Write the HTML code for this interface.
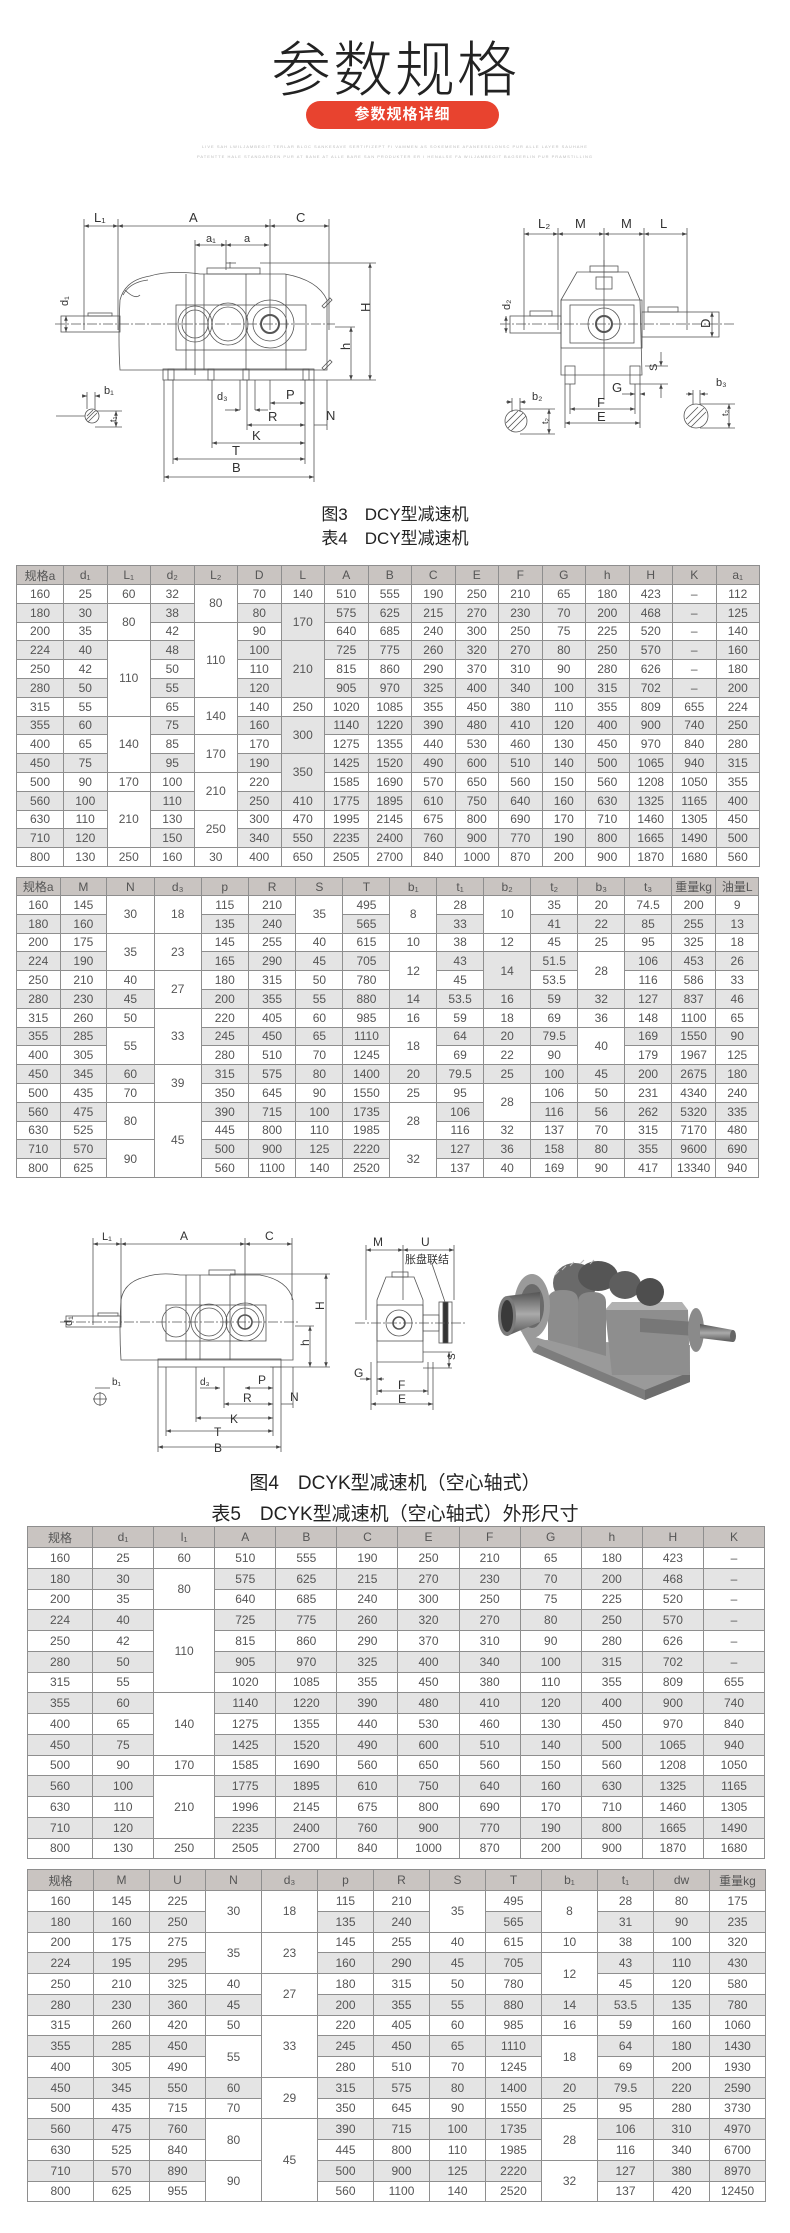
<!DOCTYPE html>
<html><head><meta charset="utf-8">
<style>
*{margin:0;padding:0;box-sizing:border-box}
body{width:790px;height:2233px;background:#fff;position:relative;font-family:"Liberation Sans","Noto Sans CJK SC",sans-serif;overflow:hidden}
.abs{position:absolute}
table{position:absolute;border-collapse:collapse;table-layout:fixed}
td{border:1px solid #8e8e8e;text-align:center;vertical-align:middle;font-size:12px;color:#555;padding:0;white-space:nowrap;font-family:"Liberation Sans","Noto Sans CJK SC",sans-serif}
tr.h td{background:#c9c4c1;color:#555}
tr.g td{background:#e4e4e4}
td.w{background:#fff!important}
td.gg{background:#e4e4e4!important}
.t1 tr{height:18.8px}
.t3 tr{height:20.75px}
.cap{position:absolute;left:0;width:790px;text-align:center;color:#222;font-family:"Liberation Sans","Noto Sans CJK SC",sans-serif}
svg text{font-family:"Liberation Sans","Noto Sans CJK SC",sans-serif;fill:#333}
</style></head><body>

<div class="cap" style="top:22px;font-size:60px;font-weight:300;color:#222;letter-spacing:2px">参数规格</div>
<div class="abs" style="left:306px;top:101px;width:193px;height:28px;border-radius:14px;background:#e8432f;color:#fff;font-weight:bold;font-size:15px;text-align:center;line-height:28px;letter-spacing:1px;font-family:'Liberation Sans','Noto Sans CJK SC',sans-serif">参数规格详细</div>
<div class="cap" style="top:144px;font-size:4px;color:#bbb;letter-spacing:1px">LIVE SAH LWILJAMBEGIT TERLAR BLOC SANKESAVE SERTIFIZEPT FI VAMMEN AS SOKEMENE AFANEESELONSC PUR ALLE LAYER SAUHAHE</div>
<div class="cap" style="top:154px;font-size:4px;color:#bbb;letter-spacing:1px">PATENTTE HALE STANDARDEN PUR AT BANE AT ALLE BARE SAN PRODUKTER ER I HENALSE FA WILJAMBEGIT BAGSERLIN PUR PRAMSTILLING</div>

<!-- FIG 3 -->
<svg class="abs" style="left:0;top:200px" width="790" height="290" viewBox="0 200 790 290">
<defs><marker id="ar" viewBox="0 0 8 6" refX="8" refY="3" markerWidth="6" markerHeight="5" orient="auto-start-reverse"><path d="M0,0L8,3L0,6z" fill="#444"/></marker></defs>
<g stroke="#555" stroke-width="0.8" fill="none">
<line x1="84" y1="219" x2="84" y2="330"/><line x1="118" y1="219" x2="118" y2="330"/><line x1="329" y1="219" x2="329" y2="330"/><line x1="270" y1="219" x2="270" y2="330"/>
<line x1="84" y1="226" x2="118" y2="226" marker-start="url(#ar)" marker-end="url(#ar)"/>
<line x1="118" y1="226" x2="270" y2="226" marker-start="url(#ar)" marker-end="url(#ar)"/>
<line x1="270" y1="226" x2="329" y2="226" marker-start="url(#ar)" marker-end="url(#ar)"/>
<line x1="195" y1="240" x2="195" y2="375"/><line x1="226" y1="240" x2="226" y2="270"/>
<line x1="195" y1="245" x2="226" y2="245" marker-start="url(#ar)" marker-end="url(#ar)"/>
<line x1="226" y1="245" x2="269" y2="245" marker-start="url(#ar)" marker-end="url(#ar)"/>
<path d="M120,300 Q125,280 150,276 Q170,270 200,274 L285,274 Q318,280 327,300 L327,370 L120,370 Q118,340 120,300z"/>
<path d="M123,295 Q130,282 148,280 M125,290 Q135,300 140,295"/>
<rect x="207" y="268" width="53" height="6"/>
<line x1="230" y1="262" x2="230" y2="268"/><line x1="226" y1="263" x2="236" y2="263"/>
<rect x="176" y="305" width="130" height="45"/>
<line x1="186" y1="274" x2="186" y2="370"/><line x1="204" y1="274" x2="204" y2="370"/><line x1="246" y1="274" x2="246" y2="370"/><line x1="286" y1="274" x2="286" y2="370"/>
<ellipse cx="195" cy="324" rx="17" ry="18"/><ellipse cx="195" cy="324" rx="13" ry="14"/>
<ellipse cx="228" cy="324" rx="20" ry="21"/><ellipse cx="228" cy="324" rx="16" ry="17"/>
<ellipse cx="270" cy="324" rx="24" ry="24"/><ellipse cx="270" cy="324" rx="17" ry="17"/><circle cx="270" cy="324" r="9" stroke-width="2"/>
<rect x="61" y="316" width="59" height="16"/><rect x="88" y="313" width="24" height="3"/>
<line x1="55" y1="324" x2="335" y2="324" stroke-dasharray="10,2,2,2"/>
<rect x="163" y="369" width="151" height="11"/>
<rect x="168" y="369" width="6" height="11"/><rect x="208" y="369" width="6" height="11"/><rect x="243" y="369" width="6" height="11"/><rect x="303" y="369" width="6" height="11"/>
<path d="M322,368 l8,-8 l2,2 l-8,8z"/><path d="M322,306 l8,-8 l2,2 l-8,8z"/>
<line x1="260" y1="263" x2="376" y2="263"/><line x1="300" y1="380" x2="376" y2="380"/><line x1="335" y1="327" x2="355" y2="327"/>
<line x1="370" y1="263" x2="370" y2="380" marker-start="url(#ar)" marker-end="url(#ar)"/>
<line x1="351" y1="327" x2="351" y2="380" marker-start="url(#ar)" marker-end="url(#ar)"/>
<line x1="164" y1="380" x2="164" y2="482"/><line x1="314" y1="380" x2="314" y2="482"/><line x1="173" y1="380" x2="173" y2="464"/><line x1="305" y1="380" x2="305" y2="464"/>
<line x1="212" y1="380" x2="212" y2="448"/><line x1="247" y1="380" x2="247" y2="430"/><line x1="240" y1="380" x2="240" y2="410"/><line x1="255" y1="380" x2="255" y2="410"/><line x1="270" y1="380" x2="270" y2="410"/><line x1="327" y1="380" x2="327" y2="430"/>
<line x1="164" y1="477" x2="314" y2="477" marker-start="url(#ar)" marker-end="url(#ar)"/>
<line x1="173" y1="459" x2="305" y2="459" marker-start="url(#ar)" marker-end="url(#ar)"/>
<line x1="212" y1="443" x2="305" y2="443" marker-start="url(#ar)" marker-end="url(#ar)"/>
<line x1="247" y1="425" x2="305" y2="425" marker-start="url(#ar)" marker-end="url(#ar)"/>
<line x1="270" y1="403" x2="305" y2="403" marker-start="url(#ar)" marker-end="url(#ar)"/>
<line x1="225" y1="410" x2="240" y2="410" marker-end="url(#ar)"/><line x1="268" y1="410" x2="255" y2="410" marker-end="url(#ar)"/>
<line x1="314" y1="425" x2="327" y2="425"/>
<line x1="56" y1="416" x2="85" y2="416"/><circle cx="92" cy="416" r="7"/><path d="M86,420l9,-9M88,422l9,-9M87,416l6,-6"/>
<line x1="87" y1="392" x2="87" y2="409"/><line x1="95" y1="392" x2="95" y2="409"/><line x1="82" y1="396" x2="87" y2="396" marker-end="url(#ar)"/><line x1="100" y1="396" x2="95" y2="396" marker-end="url(#ar)"/>
<line x1="95" y1="411" x2="122" y2="411"/><line x1="95" y1="427" x2="122" y2="427"/><line x1="116" y1="411" x2="116" y2="427" marker-start="url(#ar)" marker-end="url(#ar)"/>
<line x1="66" y1="316" x2="66" y2="332" marker-start="url(#ar)" marker-end="url(#ar)"/>
<line x1="524" y1="228" x2="524" y2="330"/><line x1="558" y1="228" x2="558" y2="330"/><line x1="604" y1="228" x2="604" y2="400"/><line x1="644" y1="228" x2="644" y2="330"/><line x1="687" y1="228" x2="687" y2="330"/>
<line x1="524" y1="234" x2="558" y2="234" marker-start="url(#ar)" marker-end="url(#ar)"/>
<line x1="558" y1="234" x2="604" y2="234" marker-start="url(#ar)" marker-end="url(#ar)"/>
<line x1="604" y1="234" x2="644" y2="234" marker-start="url(#ar)" marker-end="url(#ar)"/>
<line x1="644" y1="234" x2="687" y2="234" marker-start="url(#ar)" marker-end="url(#ar)"/>
<rect x="590" y="266" width="28" height="6"/><line x1="604" y1="260" x2="604" y2="266"/>
<path d="M577,272 L628,272 L640,300 L642,375 L561,375 L561,300z"/>
<rect x="561" y="300" width="81" height="48"/>
<rect x="570" y="305" width="64" height="38"/>
<circle cx="604" cy="324" r="16"/><circle cx="604" cy="324" r="8" stroke-width="2"/>
<rect x="596" y="277" width="16" height="12"/>
<rect x="510" y="316" width="51" height="17"/><rect x="530" y="311" width="22" height="5"/>
<rect x="642" y="312" width="77" height="25"/><rect x="648" y="307" width="30" height="5"/>
<line x1="500" y1="324" x2="735" y2="324" stroke-dasharray="10,2,2,2"/>
<rect x="565" y="366" width="10" height="18"/><rect x="630" y="366" width="10" height="18"/>
<line x1="712" y1="312" x2="712" y2="337" marker-start="url(#ar)" marker-end="url(#ar)"/>
<line x1="506" y1="316" x2="506" y2="333" marker-start="url(#ar)" marker-end="url(#ar)"/>
<line x1="645" y1="366" x2="668" y2="366"/><line x1="640" y1="384" x2="668" y2="384"/>
<line x1="661" y1="352" x2="661" y2="366" marker-end="url(#ar)"/><line x1="661" y1="398" x2="661" y2="384" marker-end="url(#ar)"/>
<line x1="565" y1="384" x2="565" y2="428"/><line x1="640" y1="384" x2="640" y2="428"/><line x1="570" y1="384" x2="570" y2="414"/><line x1="635" y1="384" x2="635" y2="414"/>
<line x1="565" y1="423" x2="640" y2="423" marker-start="url(#ar)" marker-end="url(#ar)"/>
<line x1="570" y1="409" x2="635" y2="409" marker-start="url(#ar)" marker-end="url(#ar)"/>
<line x1="622" y1="394" x2="635" y2="394" marker-end="url(#ar)"/><line x1="645" y1="394" x2="640" y2="394" marker-end="url(#ar)"/>
<circle cx="516" cy="421" r="11"/><path d="M508,428l15,-15M511,431l15,-15M506,423l12,-12"/>
<line x1="512" y1="398" x2="512" y2="412"/><line x1="520" y1="398" x2="520" y2="412"/><line x1="506" y1="402" x2="512" y2="402" marker-end="url(#ar)"/><line x1="526" y1="402" x2="520" y2="402" marker-end="url(#ar)"/>
<line x1="520" y1="409" x2="555" y2="409"/><line x1="520" y1="434" x2="555" y2="434"/><line x1="549" y1="409" x2="549" y2="434" marker-start="url(#ar)" marker-end="url(#ar)"/>
<circle cx="696" cy="416" r="12"/><path d="M688,424l16,-16M691,427l15,-15M686,419l12,-12"/>
<line x1="693" y1="390" x2="693" y2="404"/><line x1="700" y1="390" x2="700" y2="404"/><line x1="686" y1="394" x2="693" y2="394" marker-end="url(#ar)"/><line x1="708" y1="394" x2="700" y2="394" marker-end="url(#ar)"/>
<line x1="700" y1="404" x2="735" y2="404"/><line x1="700" y1="428" x2="735" y2="428"/><line x1="729" y1="404" x2="729" y2="428" marker-start="url(#ar)" marker-end="url(#ar)"/>
</g>
<g font-size="13">
<text x="94" y="222">L₁</text><text x="189" y="222">A</text><text x="296" y="222">C</text>
<text x="206" y="242" font-size="11">a₁</text><text x="244" y="242" font-size="11">a</text>
<text x="366" y="316" transform="rotate(-90 366 312)">H</text><text x="347" y="353" transform="rotate(-90 347 350)">h</text>
<text x="64" y="310" font-size="11" transform="rotate(-90 64 306)">d₁</text>
<text x="232" y="472">B</text><text x="232" y="455">T</text><text x="252" y="440">K</text><text x="268" y="421">R</text><text x="286" y="399">P</text><text x="217" y="400" font-size="11">d₃</text><text x="326" y="420">N</text>
<text x="104" y="394" font-size="11">b₁</text><text x="110" y="424" font-size="9" transform="rotate(-90 112 420)">t₁</text>
<text x="538" y="228">L₂</text><text x="575" y="228">M</text><text x="621" y="228">M</text><text x="660" y="228">L</text>
<text x="500" y="310" font-size="11" transform="rotate(-90 505 305)">d₂</text>
<text x="700" y="328" transform="rotate(-90 705 323)">D</text>
<text x="649" y="371" font-size="11" transform="rotate(-90 653 367)">S</text>
<text x="612" y="392">G</text><text x="597" y="407">F</text><text x="597" y="421">E</text>
<text x="532" y="400" font-size="11">b₂</text><text x="544" y="428" font-size="9" transform="rotate(-90 544 424)">t₂</text>
<text x="716" y="386" font-size="11">b₃</text><text x="724" y="420" font-size="9" transform="rotate(-90 724 416)">t₃</text>
</g>
</svg>

<div class="cap" style="top:500px;font-size:17px">图3　DCY型减速机</div>
<div class="cap" style="top:524px;font-size:17px">表4　DCY型减速机</div>

<table class="t1" style="left:16px;top:565px;width:743px">
<colgroup><col style="width:47px"><col span="16" style="width:43.5px"></colgroup>
<tr class="h" style="height:19px"><td>规格a</td><td>d₁</td><td>L₁</td><td>d₂</td><td>L₂</td><td>D</td><td>L</td><td>A</td><td>B</td><td>C</td><td>E</td><td>F</td><td>G</td><td>h</td><td>H</td><td>K</td><td>a₁</td></tr>
<tr><td>160</td><td>25</td><td>60</td><td>32</td><td rowspan="2" class="w">80</td><td>70</td><td>140</td><td>510</td><td>555</td><td>190</td><td>250</td><td>210</td><td>65</td><td>180</td><td>423</td><td>–</td><td>112</td></tr>
<tr class="g"><td>180</td><td>30</td><td rowspan="2" class="w">80</td><td>38</td><td>80</td><td rowspan="2" class="gg">170</td><td>575</td><td>625</td><td>215</td><td>270</td><td>230</td><td>70</td><td>200</td><td>468</td><td>–</td><td>125</td></tr>
<tr><td>200</td><td>35</td><td>42</td><td rowspan="4" class="w">110</td><td>90</td><td>640</td><td>685</td><td>240</td><td>300</td><td>250</td><td>75</td><td>225</td><td>520</td><td>–</td><td>140</td></tr>
<tr class="g"><td>224</td><td>40</td><td rowspan="4" class="w">110</td><td>48</td><td>100</td><td rowspan="3" class="gg">210</td><td>725</td><td>775</td><td>260</td><td>320</td><td>270</td><td>80</td><td>250</td><td>570</td><td>–</td><td>160</td></tr>
<tr><td>250</td><td>42</td><td>50</td><td>110</td><td>815</td><td>860</td><td>290</td><td>370</td><td>310</td><td>90</td><td>280</td><td>626</td><td>–</td><td>180</td></tr>
<tr class="g"><td>280</td><td>50</td><td>55</td><td>120</td><td>905</td><td>970</td><td>325</td><td>400</td><td>340</td><td>100</td><td>315</td><td>702</td><td>–</td><td>200</td></tr>
<tr><td>315</td><td>55</td><td>65</td><td rowspan="2" class="w">140</td><td>140</td><td>250</td><td>1020</td><td>1085</td><td>355</td><td>450</td><td>380</td><td>110</td><td>355</td><td>809</td><td>655</td><td>224</td></tr>
<tr class="g"><td>355</td><td>60</td><td rowspan="3" class="w">140</td><td>75</td><td>160</td><td rowspan="2" class="gg">300</td><td>1140</td><td>1220</td><td>390</td><td>480</td><td>410</td><td>120</td><td>400</td><td>900</td><td>740</td><td>250</td></tr>
<tr><td>400</td><td>65</td><td>85</td><td rowspan="2" class="w">170</td><td>170</td><td>1275</td><td>1355</td><td>440</td><td>530</td><td>460</td><td>130</td><td>450</td><td>970</td><td>840</td><td>280</td></tr>
<tr class="g"><td>450</td><td>75</td><td>95</td><td>190</td><td rowspan="2" class="gg">350</td><td>1425</td><td>1520</td><td>490</td><td>600</td><td>510</td><td>140</td><td>500</td><td>1065</td><td>940</td><td>315</td></tr>
<tr><td>500</td><td>90</td><td>170</td><td>100</td><td rowspan="2" class="w">210</td><td>220</td><td>1585</td><td>1690</td><td>570</td><td>650</td><td>560</td><td>150</td><td>560</td><td>1208</td><td>1050</td><td>355</td></tr>
<tr class="g"><td>560</td><td>100</td><td rowspan="3" class="w">210</td><td>110</td><td>250</td><td>410</td><td>1775</td><td>1895</td><td>610</td><td>750</td><td>640</td><td>160</td><td>630</td><td>1325</td><td>1165</td><td>400</td></tr>
<tr><td>630</td><td>110</td><td>130</td><td rowspan="2" class="w">250</td><td>300</td><td>470</td><td>1995</td><td>2145</td><td>675</td><td>800</td><td>690</td><td>170</td><td>710</td><td>1460</td><td>1305</td><td>450</td></tr>
<tr class="g"><td>710</td><td>120</td><td>150</td><td>340</td><td>550</td><td>2235</td><td>2400</td><td>760</td><td>900</td><td>770</td><td>190</td><td>800</td><td>1665</td><td>1490</td><td>500</td></tr>
<tr><td>800</td><td>130</td><td>250</td><td>160</td><td>30</td><td>400</td><td>650</td><td>2505</td><td>2700</td><td>840</td><td>1000</td><td>870</td><td>200</td><td>900</td><td>1870</td><td>1680</td><td>560</td></tr>
</table>

<table class="t1" style="left:16px;top:877px;width:743px">
<colgroup><col style="width:43.5px"><col style="width:46.5px"><col style="width:47.5px"><col style="width:47px"><col style="width:47px"><col style="width:47.5px"><col style="width:47px"><col style="width:47px"><col style="width:46.5px"><col style="width:47px"><col style="width:47px"><col style="width:47px"><col style="width:47px"><col style="width:46.5px"><col style="width:44.5px"><col style="width:42.5px"></colgroup>
<tr class="h" style="height:18px"><td>规格a</td><td>M</td><td>N</td><td>d₃</td><td>p</td><td>R</td><td>S</td><td>T</td><td>b₁</td><td>t₁</td><td>b₂</td><td>t₂</td><td>b₃</td><td>t₃</td><td>重量kg</td><td>油量L</td></tr>
<tr><td>160</td><td>145</td><td rowspan="2" class="w">30</td><td rowspan="2" class="w">18</td><td>115</td><td>210</td><td rowspan="2" class="w">35</td><td>495</td><td rowspan="2" class="w">8</td><td>28</td><td rowspan="2" class="w">10</td><td>35</td><td>20</td><td>74.5</td><td>200</td><td>9</td></tr>
<tr class="g"><td>180</td><td>160</td><td>135</td><td>240</td><td>565</td><td>33</td><td>41</td><td>22</td><td>85</td><td>255</td><td>13</td></tr>
<tr><td>200</td><td>175</td><td rowspan="2" class="w">35</td><td rowspan="2" class="w">23</td><td>145</td><td>255</td><td>40</td><td>615</td><td>10</td><td>38</td><td>12</td><td>45</td><td>25</td><td>95</td><td>325</td><td>18</td></tr>
<tr class="g"><td>224</td><td>190</td><td>165</td><td>290</td><td>45</td><td>705</td><td rowspan="2" class="w">12</td><td>43</td><td rowspan="2" class="gg">14</td><td>51.5</td><td rowspan="2" class="w">28</td><td>106</td><td>453</td><td>26</td></tr>
<tr><td>250</td><td>210</td><td>40</td><td rowspan="2" class="w">27</td><td>180</td><td>315</td><td>50</td><td>780</td><td>45</td><td>53.5</td><td>116</td><td>586</td><td>33</td></tr>
<tr class="g"><td>280</td><td>230</td><td>45</td><td>200</td><td>355</td><td>55</td><td>880</td><td>14</td><td>53.5</td><td>16</td><td>59</td><td>32</td><td>127</td><td>837</td><td>46</td></tr>
<tr><td>315</td><td>260</td><td>50</td><td rowspan="3" class="w">33</td><td>220</td><td>405</td><td>60</td><td>985</td><td>16</td><td>59</td><td>18</td><td>69</td><td>36</td><td>148</td><td>1100</td><td>65</td></tr>
<tr class="g"><td>355</td><td>285</td><td rowspan="2" class="w">55</td><td>245</td><td>450</td><td>65</td><td>1110</td><td rowspan="2" class="w">18</td><td>64</td><td>20</td><td>79.5</td><td rowspan="2" class="w">40</td><td>169</td><td>1550</td><td>90</td></tr>
<tr><td>400</td><td>305</td><td>280</td><td>510</td><td>70</td><td>1245</td><td>69</td><td>22</td><td>90</td><td>179</td><td>1967</td><td>125</td></tr>
<tr class="g"><td>450</td><td>345</td><td>60</td><td rowspan="2" class="w">39</td><td>315</td><td>575</td><td>80</td><td>1400</td><td>20</td><td>79.5</td><td>25</td><td>100</td><td>45</td><td>200</td><td>2675</td><td>180</td></tr>
<tr><td>500</td><td>435</td><td>70</td><td>350</td><td>645</td><td>90</td><td>1550</td><td>25</td><td>95</td><td rowspan="2" class="w">28</td><td>106</td><td>50</td><td>231</td><td>4340</td><td>240</td></tr>
<tr class="g"><td>560</td><td>475</td><td rowspan="2" class="w">80</td><td rowspan="4" class="w">45</td><td>390</td><td>715</td><td>100</td><td>1735</td><td rowspan="2" class="w">28</td><td>106</td><td>116</td><td>56</td><td>262</td><td>5320</td><td>335</td></tr>
<tr><td>630</td><td>525</td><td>445</td><td>800</td><td>110</td><td>1985</td><td>116</td><td>32</td><td>137</td><td>70</td><td>315</td><td>7170</td><td>480</td></tr>
<tr class="g"><td>710</td><td>570</td><td rowspan="2" class="w">90</td><td>500</td><td>900</td><td>125</td><td>2220</td><td rowspan="2" class="w">32</td><td>127</td><td>36</td><td>158</td><td>80</td><td>355</td><td>9600</td><td>690</td></tr>
<tr><td>800</td><td>625</td><td>560</td><td>1100</td><td>140</td><td>2520</td><td>137</td><td>40</td><td>169</td><td>90</td><td>417</td><td>13340</td><td>940</td></tr>
</table>

<!-- FIG 4 -->
<svg class="abs" style="left:0;top:1225px" width="790" height="235" viewBox="0 1225 790 235">
<defs><marker id="ar2" viewBox="0 0 8 6" refX="8" refY="3" markerWidth="6" markerHeight="5" orient="auto-start-reverse"><path d="M0,0L8,3L0,6z" fill="#444"/></marker>
<linearGradient id="gb" x1="0" y1="0" x2="0" y2="1"><stop offset="0" stop-color="#a5a5a5"/><stop offset="1" stop-color="#7a7a7a"/></linearGradient>
<linearGradient id="gs" x1="0" y1="0" x2="0" y2="1"><stop offset="0" stop-color="#555"/><stop offset="0.5" stop-color="#aaa"/><stop offset="1" stop-color="#555"/></linearGradient></defs>
<g stroke="#555" stroke-width="0.8" fill="none">
<line x1="93" y1="1238" x2="93" y2="1325"/><line x1="121" y1="1238" x2="121" y2="1325"/><line x1="245" y1="1238" x2="245" y2="1330"/><line x1="292" y1="1238" x2="292" y2="1300"/>
<line x1="93" y1="1244" x2="121" y2="1244" marker-start="url(#ar2)" marker-end="url(#ar2)"/>
<line x1="121" y1="1244" x2="245" y2="1244" marker-start="url(#ar2)" marker-end="url(#ar2)"/>
<line x1="245" y1="1244" x2="292" y2="1244" marker-start="url(#ar2)" marker-end="url(#ar2)"/>
<path d="M121,1300 Q124,1282 145,1277 Q160,1272 180,1275 L260,1275 Q288,1280 293,1300 L293,1360 L121,1360 Q119,1330 121,1300z"/>
<rect x="209" y="1270" width="26" height="5"/>
<rect x="166" y="1305" width="100" height="36"/>
<line x1="186" y1="1275" x2="186" y2="1360"/><line x1="200" y1="1275" x2="200" y2="1360"/><line x1="230" y1="1275" x2="230" y2="1360"/>
<ellipse cx="176" cy="1322" rx="14" ry="15"/><ellipse cx="209" cy="1322" rx="18" ry="18"/><ellipse cx="209" cy="1322" rx="14" ry="14"/>
<ellipse cx="245" cy="1322" rx="19" ry="19"/><ellipse cx="245" cy="1322" rx="14" ry="14"/><circle cx="245" cy="1322" r="7" stroke-width="1.6"/>
<rect x="66" y="1316" width="55" height="11"/><rect x="98" y="1313" width="20" height="3"/>
<line x1="60" y1="1322" x2="300" y2="1322" stroke-dasharray="10,2,2,2"/>
<rect x="158" y="1359" width="123" height="8"/>
<line x1="230" y1="1274" x2="330" y2="1274"/><line x1="270" y1="1367" x2="330" y2="1367"/><line x1="295" y1="1326" x2="314" y2="1326"/>
<line x1="326" y1="1274" x2="326" y2="1367" marker-start="url(#ar2)" marker-end="url(#ar2)"/>
<line x1="310" y1="1326" x2="310" y2="1367" marker-start="url(#ar2)" marker-end="url(#ar2)"/>
<line x1="158" y1="1367" x2="158" y2="1452"/><line x1="281" y1="1367" x2="281" y2="1452"/><line x1="166" y1="1367" x2="166" y2="1436"/><line x1="273" y1="1367" x2="273" y2="1436"/><line x1="196" y1="1367" x2="196" y2="1422"/><line x1="224" y1="1367" x2="224" y2="1408"/><line x1="293" y1="1367" x2="293" y2="1408"/>
<line x1="158" y1="1447" x2="281" y2="1447" marker-start="url(#ar2)" marker-end="url(#ar2)"/>
<line x1="166" y1="1431" x2="273" y2="1431" marker-start="url(#ar2)" marker-end="url(#ar2)"/>
<line x1="196" y1="1418" x2="273" y2="1418" marker-start="url(#ar2)" marker-end="url(#ar2)"/>
<line x1="224" y1="1404" x2="273" y2="1404" marker-start="url(#ar2)" marker-end="url(#ar2)"/>
<line x1="245" y1="1388" x2="273" y2="1388" marker-start="url(#ar2)" marker-end="url(#ar2)"/>
<line x1="200" y1="1388" x2="220" y2="1388" marker-end="url(#ar2)"/><line x1="281" y1="1404" x2="293" y2="1404"/>
<circle cx="100" cy="1399" r="6"/><line x1="93" y1="1399" x2="107" y2="1399"/><line x1="100" y1="1392" x2="100" y2="1406"/>
<line x1="95" y1="1388" x2="110" y2="1388"/>
<line x1="366" y1="1245" x2="366" y2="1320"/><line x1="403" y1="1245" x2="403" y2="1300"/><line x1="454" y1="1245" x2="454" y2="1300"/>
<line x1="366" y1="1250" x2="403" y2="1250" marker-start="url(#ar2)" marker-end="url(#ar2)"/>
<line x1="403" y1="1250" x2="454" y2="1250" marker-start="url(#ar2)" marker-end="url(#ar2)"/>
<line x1="432" y1="1264" x2="445" y2="1302"/>
<rect x="392" y="1272" width="16" height="5"/>
<path d="M386,1277 L414,1277 L423,1300 L423,1362 L377,1362 L377,1300z"/>
<rect x="377" y="1305" width="46" height="36"/><circle cx="399" cy="1323" r="13"/><circle cx="399" cy="1323" r="6" stroke-width="1.6"/>
<rect x="423" y="1315" width="16" height="16"/><rect x="439" y="1302" width="13" height="41"/><rect x="443" y="1302" width="5" height="41" fill="#333"/>
<line x1="355" y1="1323" x2="465" y2="1323" stroke-dasharray="10,2,2,2"/>
<line x1="371" y1="1362" x2="371" y2="1410"/><line x1="433" y1="1362" x2="433" y2="1410"/><line x1="377" y1="1362" x2="377" y2="1395"/><line x1="428" y1="1362" x2="428" y2="1395"/>
<line x1="371" y1="1404" x2="433" y2="1404" marker-start="url(#ar2)" marker-end="url(#ar2)"/>
<line x1="377" y1="1391" x2="428" y2="1391" marker-start="url(#ar2)" marker-end="url(#ar2)"/>
<line x1="360" y1="1379" x2="371" y2="1379" marker-end="url(#ar2)"/><line x1="384" y1="1379" x2="377" y2="1379" marker-end="url(#ar2)"/>
<line x1="423" y1="1352" x2="452" y2="1352"/><line x1="423" y1="1368" x2="452" y2="1368"/><line x1="449" y1="1352" x2="449" y2="1368" marker-start="url(#ar2)" marker-end="url(#ar2)"/>
</g>
<g font-size="12">
<text x="102" y="1240" font-size="11">L₁</text><text x="180" y="1240">A</text><text x="265" y="1240">C</text>
<text x="71" y="1335" font-size="11" transform="rotate(-90 67 1330)">d₁</text>
<text x="322" y="1312" transform="rotate(-90 322 1310)">H</text><text x="306" y="1349" transform="rotate(-90 306 1346)">h</text>
<text x="214" y="1452">B</text><text x="214" y="1436">T</text><text x="230" y="1423">K</text><text x="243" y="1402">R</text><text x="258" y="1384">P</text><text x="200" y="1385" font-size="10">d₃</text><text x="290" y="1401">N</text>
<text x="112" y="1385" font-size="10">b₁</text>
<text x="373" y="1246">M</text><text x="421" y="1246">U</text><text x="405" y="1263" font-size="11">胀盘联结</text>
<text x="354" y="1377">G</text><text x="398" y="1389">F</text><text x="398" y="1403">E</text><text x="451" y="1364" font-size="10" transform="rotate(-90 451 1360)">S</text>
</g>
<!-- photo -->
<g>
<!-- base -->
<polygon points="522,1333 545,1340 690,1345 690,1382 645,1400 533,1352" fill="#9a9a9a"/>
<polygon points="533,1352 645,1400 645,1390 538,1345" fill="#7d7d7d"/>
<polygon points="645,1390 690,1372 690,1382 645,1400" fill="#6d6d6d"/>
<!-- right body -->
<polygon points="605,1310 688,1310 690,1375 612,1375" fill="#8e8e8e"/>
<polygon points="605,1310 688,1310 682,1302 612,1302" fill="#b2b2b2"/>
<!-- gears -->
<ellipse cx="575" cy="1283" rx="22" ry="20" fill="#6a6a6a"/>
<ellipse cx="598" cy="1276" rx="20" ry="15" fill="#555"/>
<ellipse cx="625" cy="1285" rx="16" ry="14" fill="#5e5e5e"/>
<ellipse cx="650" cy="1292" rx="14" ry="14" fill="#4e4e4e"/>
<path d="M555,1275 l4,-4 M562,1270 l4,-4 M570,1266 l4,-4 M580,1264 l4,-4 M590,1264 l4,-4" stroke="#bbb" stroke-width="1"/>
<!-- covers -->
<path d="M548,1300 Q548,1290 563,1290 Q578,1290 578,1300 L578,1348 L548,1340z" fill="#8c8c8c"/>
<path d="M578,1302 Q578,1292 592,1292 Q606,1292 606,1302 L606,1356 L578,1348z" fill="#878787"/>
<!-- flange + hollow shaft -->
<ellipse cx="532" cy="1306" rx="18" ry="32" fill="#9a9a9a"/>
<ellipse cx="532" cy="1306" rx="12" ry="22" fill="#6a6a6a"/>
<polygon points="507,1296 540,1292 540,1322 507,1336" fill="url(#gs)"/>
<ellipse cx="507" cy="1316" rx="9" ry="20" fill="#7a7a7a"/>
<ellipse cx="507" cy="1316" rx="6" ry="16" fill="#3a3a3a"/>
<!-- right shaft -->
<polygon points="640,1318 695,1322 695,1336 640,1332" fill="#777"/>
<ellipse cx="696" cy="1330" rx="8" ry="22" fill="#8a8a8a"/>
<polygon points="700,1324 733,1330 733,1342 700,1338" fill="url(#gs)"/>
<ellipse cx="733" cy="1336" rx="3" ry="6" fill="#666"/>
</g>
</svg>

<div class="cap" style="top:1468px;font-size:19px">图4　DCYK型减速机（空心轴式）</div>
<div class="cap" style="top:1499px;font-size:19px">表5　DCYK型减速机（空心轴式）外形尺寸</div>

<table class="t3" style="left:27px;top:1526px;width:737px">
<colgroup><col style="width:65px"><col span="11" style="width:61.1px"></colgroup>
<tr class="h" style="height:21px"><td>规格</td><td>d₁</td><td>l₁</td><td>A</td><td>B</td><td>C</td><td>E</td><td>F</td><td>G</td><td>h</td><td>H</td><td>K</td></tr>
<tr><td>160</td><td>25</td><td>60</td><td>510</td><td>555</td><td>190</td><td>250</td><td>210</td><td>65</td><td>180</td><td>423</td><td>–</td></tr>
<tr class="g"><td>180</td><td>30</td><td rowspan="2" class="w">80</td><td>575</td><td>625</td><td>215</td><td>270</td><td>230</td><td>70</td><td>200</td><td>468</td><td>–</td></tr>
<tr><td>200</td><td>35</td><td>640</td><td>685</td><td>240</td><td>300</td><td>250</td><td>75</td><td>225</td><td>520</td><td>–</td></tr>
<tr class="g"><td>224</td><td>40</td><td rowspan="4" class="w">110</td><td>725</td><td>775</td><td>260</td><td>320</td><td>270</td><td>80</td><td>250</td><td>570</td><td>–</td></tr>
<tr><td>250</td><td>42</td><td>815</td><td>860</td><td>290</td><td>370</td><td>310</td><td>90</td><td>280</td><td>626</td><td>–</td></tr>
<tr class="g"><td>280</td><td>50</td><td>905</td><td>970</td><td>325</td><td>400</td><td>340</td><td>100</td><td>315</td><td>702</td><td>–</td></tr>
<tr><td>315</td><td>55</td><td>1020</td><td>1085</td><td>355</td><td>450</td><td>380</td><td>110</td><td>355</td><td>809</td><td>655</td></tr>
<tr class="g"><td>355</td><td>60</td><td rowspan="3" class="w">140</td><td>1140</td><td>1220</td><td>390</td><td>480</td><td>410</td><td>120</td><td>400</td><td>900</td><td>740</td></tr>
<tr><td>400</td><td>65</td><td>1275</td><td>1355</td><td>440</td><td>530</td><td>460</td><td>130</td><td>450</td><td>970</td><td>840</td></tr>
<tr class="g"><td>450</td><td>75</td><td>1425</td><td>1520</td><td>490</td><td>600</td><td>510</td><td>140</td><td>500</td><td>1065</td><td>940</td></tr>
<tr><td>500</td><td>90</td><td>170</td><td>1585</td><td>1690</td><td>560</td><td>650</td><td>560</td><td>150</td><td>560</td><td>1208</td><td>1050</td></tr>
<tr class="g"><td>560</td><td>100</td><td rowspan="3" class="w">210</td><td>1775</td><td>1895</td><td>610</td><td>750</td><td>640</td><td>160</td><td>630</td><td>1325</td><td>1165</td></tr>
<tr><td>630</td><td>110</td><td>1996</td><td>2145</td><td>675</td><td>800</td><td>690</td><td>170</td><td>710</td><td>1460</td><td>1305</td></tr>
<tr class="g"><td>710</td><td>120</td><td>2235</td><td>2400</td><td>760</td><td>900</td><td>770</td><td>190</td><td>800</td><td>1665</td><td>1490</td></tr>
<tr><td>800</td><td>130</td><td>250</td><td>2505</td><td>2700</td><td>840</td><td>1000</td><td>870</td><td>200</td><td>900</td><td>1870</td><td>1680</td></tr>
</table>

<table class="t3" style="left:27px;top:1869px;width:738px">
<colgroup><col style="width:66px"><col span="12" style="width:56px"></colgroup>
<tr class="h" style="height:21px"><td>规格</td><td>M</td><td>U</td><td>N</td><td>d₃</td><td>p</td><td>R</td><td>S</td><td>T</td><td>b₁</td><td>t₁</td><td>dw</td><td>重量kg</td></tr>
<tr><td>160</td><td>145</td><td>225</td><td rowspan="2" class="w">30</td><td rowspan="2" class="w">18</td><td>115</td><td>210</td><td rowspan="2" class="w">35</td><td>495</td><td rowspan="2" class="w">8</td><td>28</td><td>80</td><td>175</td></tr>
<tr class="g"><td>180</td><td>160</td><td>250</td><td>135</td><td>240</td><td>565</td><td>31</td><td>90</td><td>235</td></tr>
<tr><td>200</td><td>175</td><td>275</td><td rowspan="2" class="w">35</td><td rowspan="2" class="w">23</td><td>145</td><td>255</td><td>40</td><td>615</td><td>10</td><td>38</td><td>100</td><td>320</td></tr>
<tr class="g"><td>224</td><td>195</td><td>295</td><td>160</td><td>290</td><td>45</td><td>705</td><td rowspan="2" class="w">12</td><td>43</td><td>110</td><td>430</td></tr>
<tr><td>250</td><td>210</td><td>325</td><td>40</td><td rowspan="2" class="w">27</td><td>180</td><td>315</td><td>50</td><td>780</td><td>45</td><td>120</td><td>580</td></tr>
<tr class="g"><td>280</td><td>230</td><td>360</td><td>45</td><td>200</td><td>355</td><td>55</td><td>880</td><td>14</td><td>53.5</td><td>135</td><td>780</td></tr>
<tr><td>315</td><td>260</td><td>420</td><td>50</td><td rowspan="3" class="w">33</td><td>220</td><td>405</td><td>60</td><td>985</td><td>16</td><td>59</td><td>160</td><td>1060</td></tr>
<tr class="g"><td>355</td><td>285</td><td>450</td><td rowspan="2" class="w">55</td><td>245</td><td>450</td><td>65</td><td>1110</td><td rowspan="2" class="w">18</td><td>64</td><td>180</td><td>1430</td></tr>
<tr><td>400</td><td>305</td><td>490</td><td>280</td><td>510</td><td>70</td><td>1245</td><td>69</td><td>200</td><td>1930</td></tr>
<tr class="g"><td>450</td><td>345</td><td>550</td><td>60</td><td rowspan="2" class="w">29</td><td>315</td><td>575</td><td>80</td><td>1400</td><td>20</td><td>79.5</td><td>220</td><td>2590</td></tr>
<tr><td>500</td><td>435</td><td>715</td><td>70</td><td>350</td><td>645</td><td>90</td><td>1550</td><td>25</td><td>95</td><td>280</td><td>3730</td></tr>
<tr class="g"><td>560</td><td>475</td><td>760</td><td rowspan="2" class="w">80</td><td rowspan="4" class="w">45</td><td>390</td><td>715</td><td>100</td><td>1735</td><td rowspan="2" class="w">28</td><td>106</td><td>310</td><td>4970</td></tr>
<tr><td>630</td><td>525</td><td>840</td><td>445</td><td>800</td><td>110</td><td>1985</td><td>116</td><td>340</td><td>6700</td></tr>
<tr class="g"><td>710</td><td>570</td><td>890</td><td rowspan="2" class="w">90</td><td>500</td><td>900</td><td>125</td><td>2220</td><td rowspan="2" class="w">32</td><td>127</td><td>380</td><td>8970</td></tr>
<tr><td>800</td><td>625</td><td>955</td><td>560</td><td>1100</td><td>140</td><td>2520</td><td>137</td><td>420</td><td>12450</td></tr>
</table>
</body></html>
